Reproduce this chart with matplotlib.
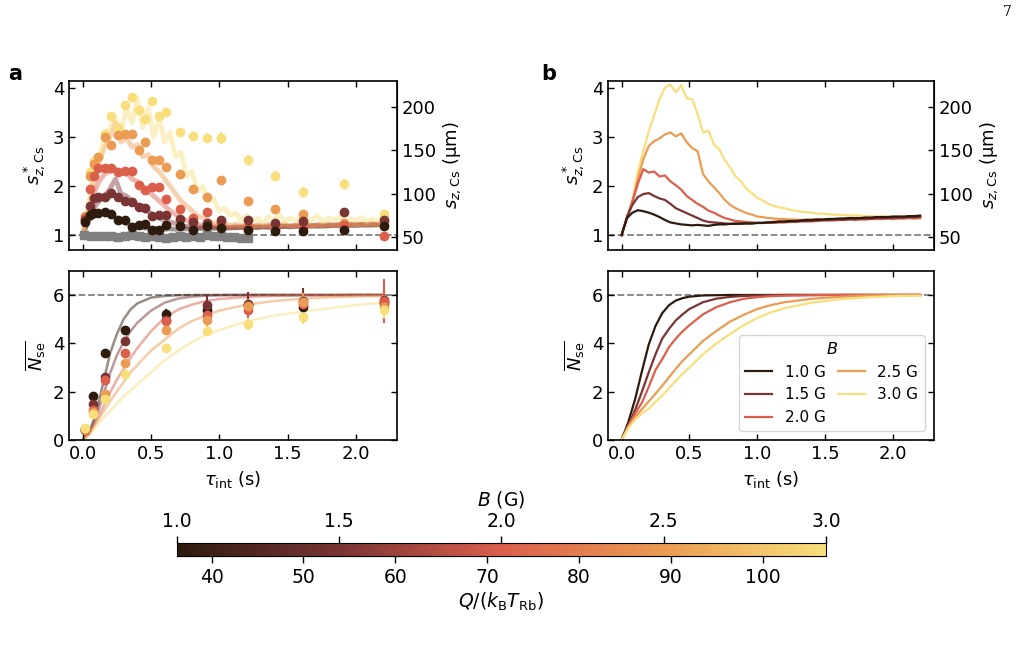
import numpy as np
import matplotlib
matplotlib.use("Agg")
import matplotlib.pyplot as plt
from matplotlib.colors import LinearSegmentedColormap, Normalize
from matplotlib.cm import ScalarMappable

plt.rcParams['font.size'] = 13
plt.rcParams['mathtext.fontset'] = 'dejavusans'

# field values and colour map
B_vals = [1.0, 1.5, 2.0, 2.5, 3.0]
B_labels = ['1.0 G', '1.5 G', '2.0 G', '2.5 G', '3.0 G']
cmap = LinearSegmentedColormap.from_list(
    'bq', ['#2d1c0e', '#7a3434', '#dc5f4c', '#eb9b52', '#f8df7c'])
norm = Normalize(1.0, 3.0)
colors = [cmap(norm(b)) for b in B_vals]

# ---- panel a, top: measured points ----
t_pts = [0.02, 0.05, 0.08, 0.11, 0.16, 0.21, 0.26, 0.31, 0.36, 0.41, 0.46, 0.51,
         0.56, 0.61, 0.71, 0.81, 0.91, 1.01, 1.21, 1.41, 1.61, 1.91, 2.21]
s_pts = [
    [1.27, 1.42, 1.45, 1.46, 1.48, 1.43, 1.31, 1.30, 1.17, 1.21, 1.23, 1.10,
     1.10, 1.20, 1.19, 1.11, 1.19, 1.14, 1.10, 1.08, 1.09, 1.10, 1.19],
    [1.30, 1.60, 1.75, 1.77, 1.79, 1.87, 1.77, 1.69, 1.68, 1.57, 1.56, 1.39,
     1.41, 1.42, 1.34, 1.27, 1.24, 1.31, 1.30, 1.24, 1.29, 1.47, 1.30],
    [1.35, 1.95, 2.20, 2.37, 2.37, 2.37, 2.30, 2.32, 2.32, 2.03, 1.93, 1.98,
     1.98, 1.74, 1.54, 1.36, 1.48, 1.24, 1.17, 1.12, 1.17, 1.20, 0.98],
    [1.40, 2.20, 2.45, 2.60, 3.01, 2.85, 3.05, 3.06, 3.06, 2.74, 2.91, 2.53,
     2.54, 2.39, 2.25, 1.94, 1.79, 2.13, 1.69, 1.53, 1.43, 1.25, 1.25],
    [1.30, 2.30, 2.51, 2.60, 3.06, 3.44, 3.20, 3.66, 3.83, 3.56, 3.38, 3.75,
     3.44, 3.52, 3.10, 3.02, 2.98, 2.98, 2.53, 2.21, 1.88, 2.05, 1.43],
]
s_err = [
    [0.03] * 23,
    [0.03] * 23,
    [0.04] * 23,
    [0.04] * 18 + [0.06, 0.06, 0.06, 0.06, 0.06],
    [0.05] * 14 + [0.08, 0.08, 0.1, 0.12, 0.1, 0.1, 0.1, 0.1, 0.08],
]

# reference (no field) points
t_gray = [0.01, 0.06, 0.11, 0.16, 0.21, 0.26, 0.31, 0.36, 0.41, 0.46, 0.51, 0.56, 0.61,
          0.66, 0.71, 0.76, 0.81, 0.86, 0.91, 0.96, 1.01, 1.06, 1.11, 1.16, 1.21]
s_gray = [1.00, 0.99, 0.98, 0.99, 0.98, 0.97, 0.99, 1.00, 0.98, 0.97, 0.99, 0.96, 0.95,
          0.97, 0.98, 0.96, 0.99, 0.97, 1.01, 0.99, 0.98, 0.97, 0.96, 0.95, 0.94]

# ---- traces (shared time grid) ----
t_tr = np.arange(0, 2.21, 0.04)
s_trace_a = [
    [1.00, 1.30, 1.40, 1.45, 1.46, 1.42, 1.36, 1.30, 1.24, 1.20,
     1.17, 1.15, 1.14, 1.13, 1.13, 1.12, 1.13, 1.12, 1.13, 1.13,
     1.13, 1.14, 1.13, 1.14, 1.14, 1.15, 1.14, 1.15, 1.15, 1.16,
     1.15, 1.16, 1.16, 1.17, 1.16, 1.17, 1.17, 1.18, 1.17, 1.18,
     1.18, 1.18, 1.19, 1.18, 1.19, 1.19, 1.20, 1.19, 1.20, 1.20,
     1.20, 1.21, 1.20, 1.21, 1.21, 1.22],
    [1.00, 1.30, 1.55, 1.70, 1.80, 1.95, 2.15, 1.85, 1.80, 1.70,
     1.62, 1.55, 1.48, 1.40, 1.36, 1.30, 1.27, 1.24, 1.20, 1.18,
     1.17, 1.16, 1.17, 1.15, 1.16, 1.15, 1.16, 1.15, 1.16, 1.16,
     1.16, 1.17, 1.16, 1.17, 1.17, 1.18, 1.17, 1.18, 1.18, 1.19,
     1.18, 1.19, 1.19, 1.20, 1.19, 1.20, 1.20, 1.21, 1.20, 1.21,
     1.21, 1.21, 1.22, 1.21, 1.22, 1.22],
    [1.00, 1.40, 1.85, 2.10, 2.25, 2.30, 2.35, 2.25, 2.28, 2.15,
     2.10, 2.00, 1.90, 1.80, 1.70, 1.60, 1.50, 1.42, 1.35, 1.30,
     1.26, 1.22, 1.20, 1.18, 1.19, 1.17, 1.18, 1.16, 1.18, 1.17,
     1.18, 1.17, 1.19, 1.18, 1.19, 1.18, 1.19, 1.20, 1.18, 1.20,
     1.19, 1.20, 1.19, 1.21, 1.20, 1.21, 1.20, 1.22, 1.21, 1.22,
     1.21, 1.22, 1.22, 1.23, 1.22, 1.23],
    [1.00, 1.50, 2.10, 2.50, 2.80, 3.00, 3.30, 2.90, 3.00, 2.80,
     2.85, 2.60, 2.65, 2.40, 2.30, 2.15, 2.00, 1.85, 1.70, 1.60,
     1.50, 1.40, 1.35, 1.30, 1.25, 1.22, 1.25, 1.20, 1.22, 1.20,
     1.22, 1.18, 1.21, 1.19, 1.22, 1.18, 1.20, 1.22, 1.19, 1.21,
     1.20, 1.22, 1.19, 1.21, 1.20, 1.23, 1.20, 1.22, 1.21, 1.23,
     1.21, 1.23, 1.22, 1.24, 1.22, 1.23],
    [1.00, 1.60, 2.30, 2.60, 3.00, 3.20, 3.40, 3.10, 3.60, 3.30,
     3.80, 3.20, 3.60, 3.00, 3.40, 2.90, 3.10, 2.60, 2.70, 2.20,
     2.30, 1.90, 2.00, 1.70, 1.75, 1.50, 1.55, 1.40, 1.45, 1.30,
     1.40, 1.28, 1.35, 1.25, 1.38, 1.30, 1.42, 1.28, 1.35, 1.30,
     1.36, 1.28, 1.32, 1.40, 1.27, 1.35, 1.30, 1.38, 1.28, 1.33,
     1.30, 1.36, 1.28, 1.33, 1.30, 1.35],
]
s_trace_b = [
    [1.00, 1.35, 1.46, 1.51, 1.49, 1.46, 1.42, 1.37, 1.31, 1.26,
     1.24, 1.22, 1.21, 1.20, 1.21, 1.20, 1.19, 1.21, 1.22, 1.22,
     1.23, 1.23, 1.24, 1.24, 1.24, 1.25, 1.25, 1.26, 1.27, 1.28,
     1.28, 1.29, 1.29, 1.30, 1.31, 1.31, 1.32, 1.32, 1.33, 1.33,
     1.34, 1.34, 1.35, 1.35, 1.35, 1.36, 1.36, 1.37, 1.37, 1.37,
     1.38, 1.38, 1.38, 1.39, 1.39, 1.40],
    [1.00, 1.38, 1.62, 1.78, 1.84, 1.86, 1.80, 1.75, 1.72, 1.64,
     1.55, 1.50, 1.45, 1.40, 1.35, 1.30, 1.27, 1.26, 1.25, 1.24,
     1.23, 1.24, 1.23, 1.24, 1.24, 1.25, 1.25, 1.26, 1.26, 1.27,
     1.27, 1.28, 1.28, 1.29, 1.29, 1.30, 1.30, 1.31, 1.31, 1.32,
     1.32, 1.32, 1.33, 1.33, 1.34, 1.34, 1.34, 1.35, 1.35, 1.35,
     1.36, 1.36, 1.36, 1.37, 1.37, 1.38],
    [1.00, 1.35, 1.68, 2.05, 2.35, 2.28, 2.30, 2.20, 2.22, 2.10,
     2.02, 1.93, 1.80, 1.72, 1.64, 1.58, 1.50, 1.46, 1.40, 1.35,
     1.32, 1.29, 1.28, 1.27, 1.26, 1.25, 1.25, 1.26, 1.25, 1.26,
     1.26, 1.27, 1.27, 1.28, 1.28, 1.28, 1.29, 1.30, 1.30, 1.30,
     1.31, 1.31, 1.32, 1.31, 1.32, 1.32, 1.33, 1.33, 1.33, 1.34,
     1.33, 1.34, 1.34, 1.35, 1.34, 1.35],
    [1.00, 1.35, 1.70, 2.15, 2.55, 2.82, 2.92, 2.98, 3.06, 3.10,
     3.02, 3.08, 2.90, 2.78, 2.72, 2.25, 2.10, 1.98, 1.86, 1.72,
     1.62, 1.55, 1.50, 1.45, 1.42, 1.38, 1.37, 1.35, 1.34, 1.33,
     1.33, 1.32, 1.32, 1.31, 1.32, 1.32, 1.33, 1.32, 1.33, 1.33,
     1.33, 1.34, 1.33, 1.34, 1.34, 1.34, 1.35, 1.34, 1.35, 1.35,
     1.35, 1.36, 1.35, 1.36, 1.36, 1.37],
    [1.00, 1.38, 1.72, 2.30, 2.72, 3.12, 3.45, 3.78, 4.02, 4.08,
     3.92, 4.07, 3.80, 3.78, 3.48, 3.10, 3.14, 2.86, 2.75, 2.54,
     2.38, 2.20, 2.10, 1.95, 1.86, 1.76, 1.71, 1.64, 1.60, 1.57,
     1.55, 1.52, 1.50, 1.48, 1.47, 1.46, 1.44, 1.44, 1.43, 1.42,
     1.42, 1.41, 1.40, 1.41, 1.40, 1.39, 1.39, 1.38, 1.39, 1.38,
     1.38, 1.39, 1.38, 1.38, 1.39, 1.38],
]

# ---- panel a, bottom: N_se points and fits ----
t_N = [0.02, 0.073, 0.165, 0.31, 0.61, 0.91, 1.21, 1.61, 2.21]
N_pts = [
    [0.45, 1.81, 3.61, 4.57, 5.23, 5.39, 5.60, 5.50, 5.68],
    [0.42, 1.48, 2.63, 4.10, 4.95, 5.60, 5.64, 5.75, 5.78],
    [0.40, 1.23, 2.47, 3.59, 4.91, 5.17, 5.39, 5.64, 5.74],
    [0.45, 1.15, 1.89, 3.19, 4.57, 4.95, 5.53, 5.70, 5.50],
    [0.50, 1.06, 1.70, 2.72, 3.82, 4.50, 4.79, 5.09, 5.39],
]
N_err = [
    [0.05, 0.05, 0.06, 0.12, 0.20, 0.30, 0.30, 0.30, 0.30],
    [0.05, 0.05, 0.06, 0.10, 0.20, 0.40, 0.50, 0.55, 0.60],
    [0.05, 0.05, 0.06, 0.10, 0.15, 0.30, 0.35, 0.40, 0.90],
    [0.05, 0.05, 0.06, 0.10, 0.15, 0.25, 0.30, 0.40, 0.50],
    [0.05, 0.05, 0.06, 0.10, 0.15, 0.20, 0.25, 0.30, 0.35],
]
t_fa = [0, 0.05, 0.1, 0.15, 0.2, 0.25, 0.3, 0.35, 0.4, 0.5, 0.6, 0.7, 0.8, 0.9,
        1.0, 1.2, 1.4, 1.6, 1.8, 2.0, 2.2]
N_fit_a = [
    [0, 0.35, 1.15, 2.35, 3.57, 4.38, 5.0, 5.4, 5.65, 5.89, 5.96, 5.99, 6, 6,
     6, 6, 6, 6, 6, 6, 6],
    [0, 0.3, 0.95, 1.85, 2.75, 3.5, 4.05, 4.5, 4.85, 5.35, 5.68, 5.85, 5.93, 5.97,
     5.99, 6, 6, 6, 6, 6, 6],
    [0, 0.27, 0.8, 1.35, 1.95, 2.5, 2.95, 3.4, 3.8, 4.5, 5.05, 5.4, 5.6, 5.75,
     5.83, 5.92, 5.96, 5.98, 5.99, 6, 6],
    [0, 0.25, 0.72, 1.15, 1.6, 2.0, 2.4, 2.8, 3.1, 3.7, 4.15, 4.6, 4.92, 5.15,
     5.35, 5.6, 5.75, 5.84, 5.9, 5.94, 5.96],
    [0, 0.22, 0.58, 0.9, 1.2, 1.5, 1.8, 2.05, 2.3, 2.8, 3.3, 3.7, 4.05, 4.35,
     4.55, 4.9, 5.15, 5.3, 5.45, 5.58, 5.68],
]
t_fb = [0, 0.05, 0.1, 0.15, 0.2, 0.25, 0.3, 0.35, 0.4, 0.45, 0.5, 0.6, 0.7, 0.8,
        0.9, 1.0, 1.1, 1.2, 1.4, 1.6, 1.8, 2.0, 2.2]
N_fit_b = [
    [0, 0.75, 1.7, 2.85, 3.95, 4.72, 5.25, 5.58, 5.77, 5.87, 5.93, 5.98, 5.99, 6,
     6, 6, 6, 6, 6, 6, 6, 6, 6],
    [0, 0.62, 1.25, 2.0, 2.8, 3.55, 4.2, 4.6, 4.95, 5.2, 5.42, 5.7, 5.85, 5.92,
     5.96, 5.98, 5.99, 6, 6, 6, 6, 6, 6],
    [0, 0.6, 1.1, 1.55, 2.2, 2.9, 3.35, 3.85, 4.2, 4.5, 4.75, 5.2, 5.5, 5.7,
     5.84, 5.91, 5.95, 5.97, 5.99, 6, 6, 6, 6],
    [0, 0.55, 0.95, 1.28, 1.6, 1.92, 2.25, 2.6, 2.95, 3.28, 3.55, 4.1, 4.52, 4.9,
     5.18, 5.42, 5.58, 5.7, 5.84, 5.92, 5.97, 5.99, 6],
    [0, 0.5, 0.85, 1.1, 1.3, 1.58, 1.85, 2.15, 2.45, 2.75, 3.0, 3.55, 4.0, 4.39,
     4.75, 5.05, 5.28, 5.45, 5.68, 5.82, 5.9, 5.95, 5.97],
]


def to_um(s):
    return 56.5 * s - 4.5


def from_um(u):
    return (u + 4.5) / 56.5


def style(ax, top_panel):
    ax.set_xlim(-0.1, 2.3)
    ax.set_xticks([0, 0.5, 1.0, 1.5, 2.0])
    ax.tick_params(direction='in', top=True, right=not top_panel, length=4, width=1)
    if top_panel:
        ax.set_ylim(0.7, 4.15)
        ax.set_yticks([1, 2, 3, 4])
        ax.tick_params(labelbottom=False)
        ax.set_ylabel(r'$s^*_{z,\mathrm{Cs}}$')
        ax.axhline(1, color='gray', ls='--', lw=1.3, zorder=0)
        sec = ax.secondary_yaxis('right', functions=(to_um, from_um))
        sec.set_yticks([50, 100, 150, 200])
        sec.tick_params(direction='in', length=4, width=1)
        sec.set_ylabel(r'$s_{z,\mathrm{Cs}}$ (µm)')
    else:
        ax.set_ylim(0, 7)
        ax.set_yticks([0, 2, 4, 6])
        ax.set_xticklabels(['0.0', '0.5', '1.0', '1.5', '2.0'])
        ax.set_ylabel(r'$\overline{N_\mathrm{se}}$')
        ax.set_xlabel(r'$\tau_\mathrm{int}$ (s)')
        ax.axhline(6, color='gray', ls='--', lw=1.3, zorder=0)
    for sp in ax.spines.values():
        sp.set_linewidth(1.2)


fig = plt.figure(figsize=(10.21, 6.54), dpi=100)
ax_a1 = fig.add_axes([0.0676, 0.618, 0.321, 0.258])
ax_a2 = fig.add_axes([0.0676, 0.327, 0.321, 0.259])
ax_b1 = fig.add_axes([0.5955, 0.618, 0.319, 0.258])
ax_b2 = fig.add_axes([0.5955, 0.327, 0.319, 0.259])

# panel a top
ax_a1.plot(t_gray, s_gray, color='gray', lw=3, alpha=0.4, zorder=1)
ax_a1.plot(t_gray, s_gray, 's', color='gray', ms=5.5, zorder=2)
for i in range(5):
    ax_a1.plot(t_tr, s_trace_a[i], color=colors[i], lw=3.5, alpha=0.45, zorder=1)
for i in range(5):
    ax_a1.errorbar(t_pts, s_pts[i], yerr=s_err[i], fmt='o', color=colors[i],
                   ms=6, elinewidth=1.5, capsize=0, zorder=3 + (4 - i) * 0.1)
style(ax_a1, True)

# panel a bottom
for i in range(5):
    ax_a2.plot(t_fa, N_fit_a[i], color=colors[i], lw=1.8, alpha=0.5, zorder=1)
for i in range(5):
    ax_a2.errorbar(t_N, N_pts[i], yerr=N_err[i], fmt='o', color=colors[i],
                   ms=6, elinewidth=1.5, capsize=0, zorder=3)
style(ax_a2, False)

# panel b top
for i in range(5):
    ax_b1.plot(t_tr, s_trace_b[i], color=colors[i], lw=1.6, zorder=2 + (4 - i) * 0.1)
style(ax_b1, True)

# panel b bottom
for i in range(5):
    ax_b2.plot(t_fb, N_fit_b[i], color=colors[i], lw=1.6, label=B_labels[i])
style(ax_b2, False)
ax_b2.legend(title=r'$B$', ncol=2, loc='lower right', fontsize=11,
             title_fontsize=11.5, handlelength=1.8, columnspacing=0.8,
             borderaxespad=0.6)

fig.text(0.008, 0.877, 'a', fontsize=15, fontweight='bold')
fig.text(0.530, 0.877, 'b', fontsize=15, fontweight='bold')
fig.text(0.982, 0.975, '7', fontsize=10, family='DejaVu Serif')

# colourbar with B on top and Q on bottom
cax = fig.add_axes([0.173, 0.150, 0.636, 0.020])
sm = ScalarMappable(norm=norm, cmap=cmap)
cb = fig.colorbar(sm, cax=cax, orientation='horizontal')
cax.xaxis.set_ticks_position('top')
cax.xaxis.set_label_position('top')
cb.set_ticks([1.0, 1.5, 2.0, 2.5, 3.0])
cb.set_ticklabels(['1.0', '1.5', '2.0', '2.5', '3.0'])
cax.tick_params(direction='out', length=5, width=1, labelsize=13.5)
cax.set_xlabel(r'$B$ (G)', labelpad=5, fontsize=13.5)
secx = cax.secondary_xaxis('bottom', functions=(lambda b: 0.85 + 35.35 * b,
                                                lambda q: (q - 0.85) / 35.35))
secx.set_xticks([40, 50, 60, 70, 80, 90, 100])
secx.tick_params(direction='out', length=5, width=1, labelsize=13.5)
secx.set_xlabel(r'$Q/(k_\mathrm{B}T_\mathrm{Rb})$', fontsize=13.5, labelpad=3)

fig.savefig('out.png', dpi=100)
